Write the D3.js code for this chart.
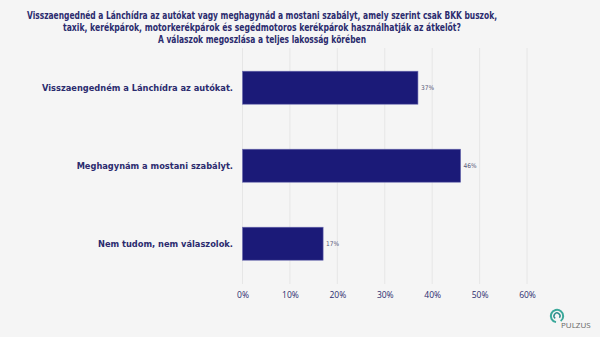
<!DOCTYPE html>
<html><head><meta charset="utf-8">
<script src="https://cdn.jsdelivr.net/npm/d3@7"></script>
<style>body{margin:0;background:#f5f5f5}svg{display:block}</style>
</head><body>
<script>
const titleLines = [
  "Visszaengednéd a Lánchídra az autókat vagy meghagynád a mostani szabályt, amely szerint csak BKK buszok,",
  "taxik, kerékpárok, motorkerékpárok és segédmotoros kerékpárok használhatják az átkelőt?",
  "A válaszok megoszlása a teljes lakosság körében"
];
const titleWidths = [470, 398, 208];
const categories = ["Visszaengedném a Lánchídra az autókat.", "Meghagynám a mostani szabályt.", "Nem tudom, nem válaszolok."];
const values = [37, 46, 17];
const ticks = [0, 10, 20, 30, 40, 50, 60];

const W = 600, H = 337;
const svg = d3.select("body").append("svg").attr("width", W).attr("height", H);
svg.append("rect").attr("width", W).attr("height", H).attr("fill", "#f5f5f5");

const navy = "#2b2b6e";
const font = "'DejaVu Sans Condensed','DejaVu Sans',sans-serif";

const x = d3.scaleLinear().domain([0, 60]).range([242.5, 527]);
const y = d3.scaleBand().domain(categories).range([48.7, 282.7]).paddingInner(0.577).paddingOuter(0.2885);

// gridlines
svg.append("g").selectAll("line").data(ticks).join("line")
  .attr("x1", d => x(d)).attr("x2", d => x(d))
  .attr("y1", 48).attr("y2", 284)
  .attr("stroke", "#e6e6e6").attr("stroke-width", 1);

// title
svg.append("g").selectAll("text").data(titleLines).join("text")
  .attr("x", 262).attr("y", (d, i) => 18.5 + i * 12.3)
  .attr("text-anchor", "middle")
  .attr("textLength", (d, i) => titleWidths[i]).attr("lengthAdjust", "spacingAndGlyphs")
  .attr("font-family", font).attr("font-weight", "bold").attr("font-size", 9.6)
  .attr("fill", navy).text(d => d);

// bars
svg.append("g").selectAll("rect").data(values).join("rect")
  .attr("x", x(0)).attr("y", (d, i) => y(categories[i]))
  .attr("width", d => x(d) - x(0)).attr("height", y.bandwidth())
  .attr("fill", "#1b1a78").attr("stroke", "#6b6bb0").attr("stroke-width", 0.6);

// value labels
svg.append("g").selectAll("text").data(values).join("text")
  .attr("x", d => x(d) + 3).attr("y", (d, i) => y(categories[i]) + y.bandwidth() / 2 + 2.2)
  .attr("font-family", font).attr("font-size", 6.5).attr("fill", "#555577")
  .text(d => d + "%");

// category labels
svg.append("g").selectAll("text").data(categories).join("text")
  .attr("x", 233).attr("y", d => y(d) + y.bandwidth() / 2 + 3.2)
  .attr("text-anchor", "end")
  .attr("font-family", font).attr("font-weight", "bold").attr("font-size", 9.2)
  .attr("fill", navy).text(d => d);

// x axis
const ax = svg.append("g").attr("transform", "translate(0,284)")
  .call(d3.axisBottom(x).tickValues(ticks).tickFormat(d => d + "%").tickSize(0).tickPadding(8));
ax.select(".domain").remove();
ax.selectAll("text").attr("font-family", "'Open Sans',sans-serif").attr("font-size", 8.5).attr("fill", navy);

// logo
const lg = svg.append("g").attr("transform", "translate(557,316)");
lg.append("path").attr("d", d3.arc()({innerRadius: 5.2, outerRadius: 7.2, startAngle: -Math.PI * 0.95, endAngle: Math.PI * 0.8}))
  .attr("fill", "#3aa89a");
lg.append("path").attr("d", d3.arc()({innerRadius: 2.3, outerRadius: 3.7, startAngle: -Math.PI * 0.8, endAngle: Math.PI * 0.7}))
  .attr("fill", "#2a8a8a");
lg.append("text").attr("x", 4).attr("y", 12).attr("font-family", "'Open Sans',sans-serif").attr("font-size", 8)
  .attr("fill", "#666").text("PULZUS");
</script>
</body></html>
